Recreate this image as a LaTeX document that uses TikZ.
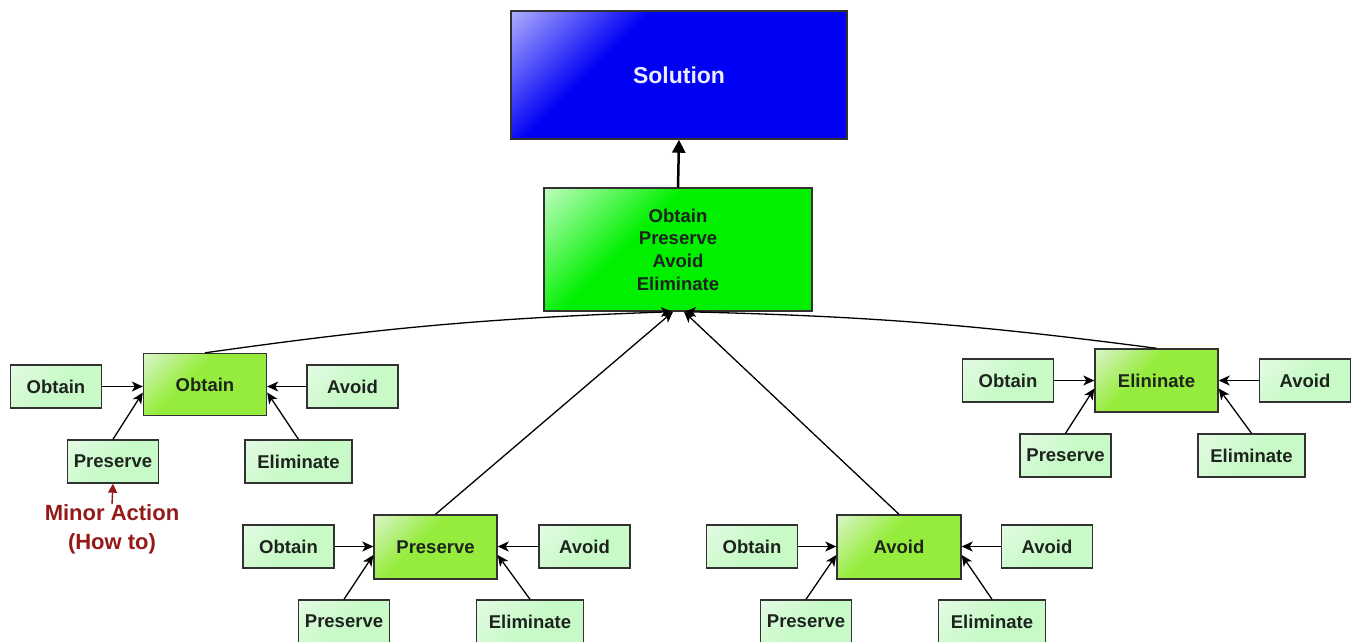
\documentclass[tikz,border=0pt]{standalone}
\usepackage{fontspec}
\setmainfont{Liberation Sans}
\usetikzlibrary{arrows.meta}
\definecolor{solblue}{RGB}{0,0,245}
\definecolor{sollight}{RGB}{210,210,255}
\definecolor{maingreen}{RGB}{0,240,0}
\definecolor{mainlight}{RGB}{225,255,225}
\definecolor{grpgreen}{RGB}{150,236,60}
\definecolor{grplight}{RGB}{225,245,215}
\definecolor{smallgreen}{RGB}{200,250,200}
\definecolor{smalllight}{RGB}{230,250,230}
\definecolor{bordergray}{RGB}{50,50,50}
\definecolor{txtdark}{RGB}{30,35,30}
\definecolor{minorred}{RGB}{150,25,25}
\definecolor{soltext}{RGB}{235,235,255}
\pgfdeclareverticalshading{solshade}{100bp}{color(0bp)=(solblue); color(64bp)=(solblue); color(90bp)=(sollight); color(100bp)=(sollight)}
\pgfdeclareverticalshading{mainshade}{100bp}{color(0bp)=(maingreen); color(60bp)=(maingreen); color(90bp)=(mainlight); color(100bp)=(mainlight)}
\pgfdeclareverticalshading{grpshade}{100bp}{color(0bp)=(grpgreen); color(58bp)=(grpgreen); color(88bp)=(grplight); color(100bp)=(grplight)}
\pgfdeclareverticalshading{smallshade}{100bp}{color(0bp)=(smallgreen); color(50bp)=(smallgreen); color(88bp)=(smalllight); color(100bp)=(smalllight)}
\tikzset{
  basebox/.style={draw=bordergray, line width=1.4pt, inner sep=0pt, align=center,
    font=\fontsize{18.5}{22.7}\selectfont\bfseries, text=txtdark, shading angle=45},
  solbox/.style={basebox, shading=solshade, minimum width=336pt, minimum height=128pt,
    text=soltext, font=\fontsize{23}{27}\selectfont\bfseries},
  mainbox/.style={basebox, shading=mainshade, minimum width=268pt, minimum height=123pt},
  grpbox/.style={basebox, shading=grpshade, minimum width=123pt, minimum height=62pt},
  smallbox/.style={basebox, shading=smallshade, minimum height=43pt},
  sw/.style={smallbox, minimum width=91pt},
  sew/.style={smallbox, minimum width=107pt},
  conn/.style={draw=black, line width=1.3pt, -{Stealth[length=11pt,width=10pt,inset=3pt]}},
  bigconn/.style={draw=black, line width=2.5pt, -{Triangle[length=13pt,width=13pt]}},
  minorarrow/.style={draw=minorred, line width=1.4pt, -{Triangle[length=9pt,width=9pt]}},
}
\begin{document}
\begin{tikzpicture}[x=1pt,y=-1pt]
\useasboundingbox (0,0) rectangle (1356,641);
\fill[white] (0,0) rectangle (1356,641);

\node[solbox] (sol) at (679,75) {Solution};
\node[mainbox] (main) at (678,249.5) {Obtain\\Preserve\\Avoid\\Eliminate};

% Obtain group
\node[grpbox] (gO) at (205,384.5) {Obtain};
\node[sw] (oO) at (56,386.5) {Obtain};
\node[sw] (oA) at (352.5,386.5) {Avoid};
\node[sw] (oP) at (113,461.5) {Preserve};
\node[sew] (oE) at (298.5,461.5) {Eliminate};

% Preserve group
\node[grpbox, minimum height=64pt] (gP) at (435.5,547) {Preserve};
\node[sw] (pO) at (288.5,546.5) {Obtain};
\node[sw] (pA) at (584.5,546.5) {Avoid};
\node[sw] (pP) at (344,621.5) {Preserve};
\node[sew] (pE) at (530,621.5) {Eliminate};

% Avoid group
\node[grpbox, minimum height=64pt, minimum width=124pt] (gA) at (899,547) {Avoid};
\node[sw] (aO) at (752,546.5) {Obtain};
\node[sw] (aA) at (1047,546.5) {Avoid};
\node[sw] (aP) at (806,621.5) {Preserve};
\node[sew] (aE) at (992,621.5) {Eliminate};

% Eliminate group
\node[grpbox, minimum height=63pt] (gE) at (1156.5,380.5) {Elininate};
\node[sw] (eO) at (1008,380.5) {Obtain};
\node[sw] (eA) at (1305,380.5) {Avoid};
\node[sw] (eP) at (1065.5,455.5) {Preserve};
\node[sew] (eE) at (1251.5,455.5) {Eliminate};

% Minor action
\node[text=minorred, align=center, font=\fontsize{22}{29}\selectfont\bfseries, inner sep=0pt] (minor) at (112,529) {Minor Action\\(How to)};

% connectors
\draw[bigconn] (main.north) -- (sol.south);
\draw[conn] (gO.north) to[bend left=3] ([xshift=-6pt]main.south);
\draw[conn] (gP.north) -- ([xshift=-5pt]main.south);
\draw[conn] (gA.north) -- ([xshift=6pt]main.south);
\draw[conn] (gE.north) to[bend right=3] ([xshift=7pt]main.south);

\foreach \g/\o/\a/\p/\e in {gO/oO/oA/oP/oE, gP/pO/pA/pP/pE, gA/aO/aA/aP/aE, gE/eO/eA/eP/eE}{
  \draw[conn] (\o.east) -- (\o.east -| \g.west);
  \draw[conn] (\a.west) -- (\a.west -| \g.east);
  \draw[conn] (\p.north) -- ([yshift=-8pt]\g.west);
  \draw[conn] (\e.north) -- ([yshift=-8pt]\g.east);
}
\draw[minorarrow] (minor.north) -- (oP.south);
\end{tikzpicture}
\end{document}
